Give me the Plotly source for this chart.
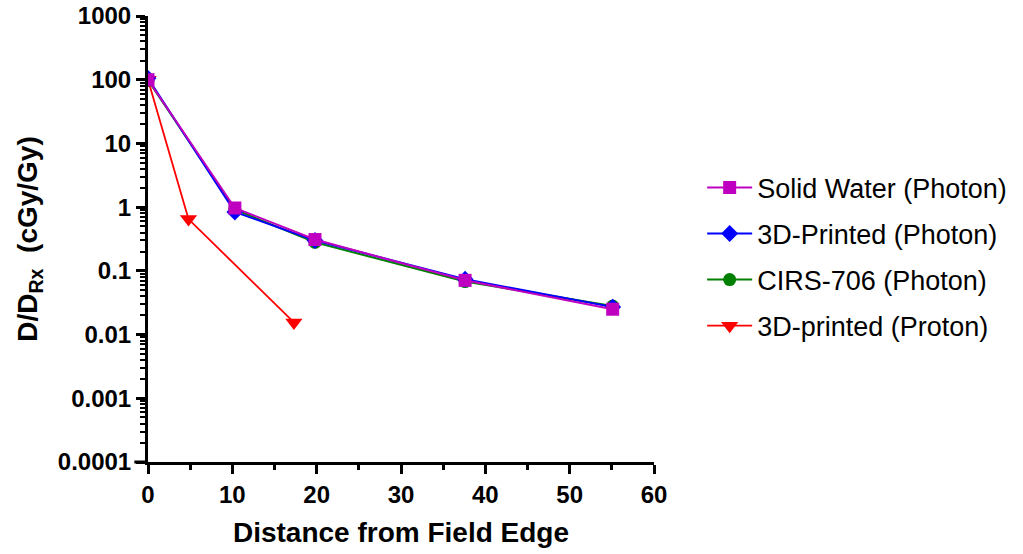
import plotly.graph_objects as go

# Data
sw_x = [0, 10.3, 19.8, 37.6, 55.1]
sw_y = [100, 0.97, 0.31, 0.071, 0.025]
p3d_x = [0, 10.3, 19.8, 37.6, 55.1]
p3d_y = [105, 0.84, 0.30, 0.074, 0.027]
cirs_x = [0, 10.3, 19.8, 37.6, 55.1]
cirs_y = [98, 0.92, 0.28, 0.068, 0.028]
prot_x = [0, 4.8, 17.3]
prot_y = [100, 0.65, 0.0155]

y_tickvals = [1e-4, 1e-3, 1e-2, 1e-1, 1, 10, 100, 1000]
y_ticktext = ["0.0001", "0.001", "0.01", "0.1", "1", "10", "100", "1000"]

FONT = "Arial, Liberation Sans, sans-serif"

fig = go.Figure()
fig.add_trace(go.Scatter(x=prot_x, y=prot_y, name="3D-printed (Proton)", mode="lines+markers",
                         line=dict(color="#FF0000", width=1.8),
                         marker=dict(symbol="triangle-down", size=15, color="#FF0000"),
                         legendgroup="d", legendrank=4))
fig.add_trace(go.Scatter(x=cirs_x, y=cirs_y, name="CIRS-706 (Photon)", mode="lines+markers",
                         line=dict(color="#008000", width=2),
                         marker=dict(symbol="circle", size=13, color="#008000"),
                         legendgroup="c", legendrank=3))
fig.add_trace(go.Scatter(x=p3d_x, y=p3d_y, name="3D-Printed (Photon)", mode="lines+markers",
                         line=dict(color="#0000FF", width=2),
                         marker=dict(symbol="diamond", size=13, color="#0000FF"),
                         legendgroup="b", legendrank=2))
fig.add_trace(go.Scatter(x=sw_x, y=sw_y, name="Solid Water (Photon)", mode="lines+markers",
                         line=dict(color="#C000C0", width=2),
                         marker=dict(symbol="square", size=13, color="#C000C0"),
                         legendgroup="a", legendrank=1))

minor_vals = [k * 10 ** n for n in range(-4, 3) for k in range(2, 10)]

fig.update_layout(
    width=1023, height=554,
    margin=dict(l=148, r=368, t=16, b=92),
    paper_bgcolor="white", plot_bgcolor="white",
    font=dict(family=FONT, color="black"),
    showlegend=True,
    legend=dict(x=1.093, y=0.46, xanchor="left", yanchor="middle",
                font=dict(size=27, family=FONT, color="black"),
                tracegroupgap=8, itemwidth=45, bgcolor="rgba(0,0,0,0)"),
    xaxis=dict(range=[0, 60], tickvals=[0, 10, 20, 30, 40, 50, 60], automargin=False,
               ticks="outside", ticklen=9, tickwidth=3, tickcolor="black",
               showline=True, linewidth=3, linecolor="black",
               showgrid=False, zeroline=False,
               minor=dict(tickvals=[5, 15, 25, 35, 45, 55], ticks="outside", ticklen=5,
                          tickwidth=3, tickcolor="black", showgrid=False),
               tickfont=dict(size=24, family=FONT, color="black", weight="bold"),
               title=dict(text="Distance from Field Edge", standoff=16,
                          font=dict(size=28, family=FONT, color="black", weight="bold"))),
    yaxis=dict(type="log", range=[-4, 3], tickvals=y_tickvals, ticktext=y_ticktext,
               automargin=False,
               ticks="outside", ticklen=9, tickwidth=3, tickcolor="black",
               showline=True, linewidth=3, linecolor="black",
               showgrid=False, zeroline=False,
               minor=dict(tickvals=minor_vals, ticks="outside", ticklen=5,
                          tickwidth=2, tickcolor="black", showgrid=False),
               tickfont=dict(size=24, family=FONT, color="black", weight="bold"),
               title=dict(text="D/D<sub>Rx</sub>  (cGy/Gy)", standoff=12,
                          font=dict(size=28, family=FONT, color="black", weight="bold"))),
)

# x-axis line extends slightly left of the y-axis (offset-axis style)
fig.add_shape(type="line", xref="paper", yref="paper", x0=-0.027, x1=0, y0=0, y1=0,
              line=dict(color="black", width=3))

fig.write_html("out.html")
